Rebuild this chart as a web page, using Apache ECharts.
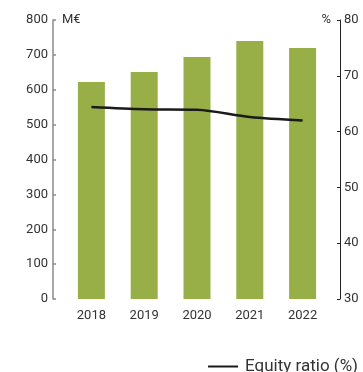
<!DOCTYPE html>
<html>
<head>
<meta charset="utf-8">
<script src="https://cdn.jsdelivr.net/npm/echarts@6/dist/echarts.min.js"></script>
<style>
  html, body { margin: 0; padding: 0; background: #fff; }
  #chart { width: 363px; height: 372px; }
</style>
</head>
<body>
<div id="chart"></div>
<script>
// Years shown on the category axis
const years = ['2018', '2019', '2020', '2021', '2022'];
// Equity in million euros (bars, left axis)
const equity = [622, 651, 694, 740, 720];
// Equity ratio in percent (line, right axis)
const equityRatio = [64.4, 64.0, 63.9, 62.6, 62.0];

const font = 'Roboto';
const textColor = '#333';

const chart = echarts.init(document.getElementById('chart'), null, { renderer: 'canvas' });
chart.setOption({
  animation: false,
  textStyle: { fontFamily: font },
  grid: { left: 65, right: 34, top: 20, bottom: 73, containLabel: false },
  legend: {
    data: [{ name: 'Equity ratio (%)', icon: 'rect' }],
    right: 0,
    top: 353,
    itemWidth: 30,
    itemHeight: 2,
    itemGap: 10,
    textStyle: { fontFamily: font, fontSize: 17, color: textColor, padding: [0, 0, 0, 2] },
    selectedMode: false
  },
  xAxis: {
    type: 'category',
    data: years,
    axisLine: { show: false },
    axisTick: { show: false },
    axisLabel: { fontFamily: font, fontSize: 13, color: textColor, margin: 10 }
  },
  yAxis: [
    {
      type: 'value',
      min: 0, max: 800, interval: 100,
      position: 'left',
      offset: 12,
      name: 'M€',
      nameLocation: 'end',
      nameGap: 0,
      nameTextStyle: { fontFamily: font, fontSize: 13, color: textColor, align: 'left', verticalAlign: 'middle', padding: [0, 0, 0, 9] },
      axisLine: { show: true, lineStyle: { color: '#8a8a8a', width: 1.5 } },
      axisTick: { show: true, inside: true, length: 3, lineStyle: { color: '#8a8a8a', width: 1.5 } },
      axisLabel: { fontFamily: font, fontSize: 13, color: textColor, margin: 5 },
      splitLine: { show: false }
    },
    {
      type: 'value',
      min: 30, max: 80, interval: 10,
      position: 'right',
      offset: 11,
      name: '%',
      nameLocation: 'end',
      nameGap: 0,
      nameTextStyle: { fontFamily: font, fontSize: 13, color: textColor, align: 'right', verticalAlign: 'middle', padding: [0, 9, 0, 0] },
      axisLine: { show: true, lineStyle: { color: '#222', width: 1 } },
      axisTick: { show: true, inside: true, length: 3, lineStyle: { color: '#222', width: 1 } },
      axisLabel: { fontFamily: font, fontSize: 13, color: textColor, margin: 4 },
      splitLine: { show: false }
    }
  ],
  series: [
    {
      name: 'Equity (M€)',
      type: 'bar',
      data: equity,
      yAxisIndex: 0,
      barWidth: 27,
      itemStyle: { color: '#98af47' }
    },
    {
      name: 'Equity ratio (%)',
      type: 'line',
      data: equityRatio,
      yAxisIndex: 1,
      symbol: 'none',
      smooth: 0.3,
      lineStyle: { color: '#1a1a1a', width: 2.5 },
      itemStyle: { color: '#1a1a1a' }
    }
  ]
});
</script>
</body>
</html>
